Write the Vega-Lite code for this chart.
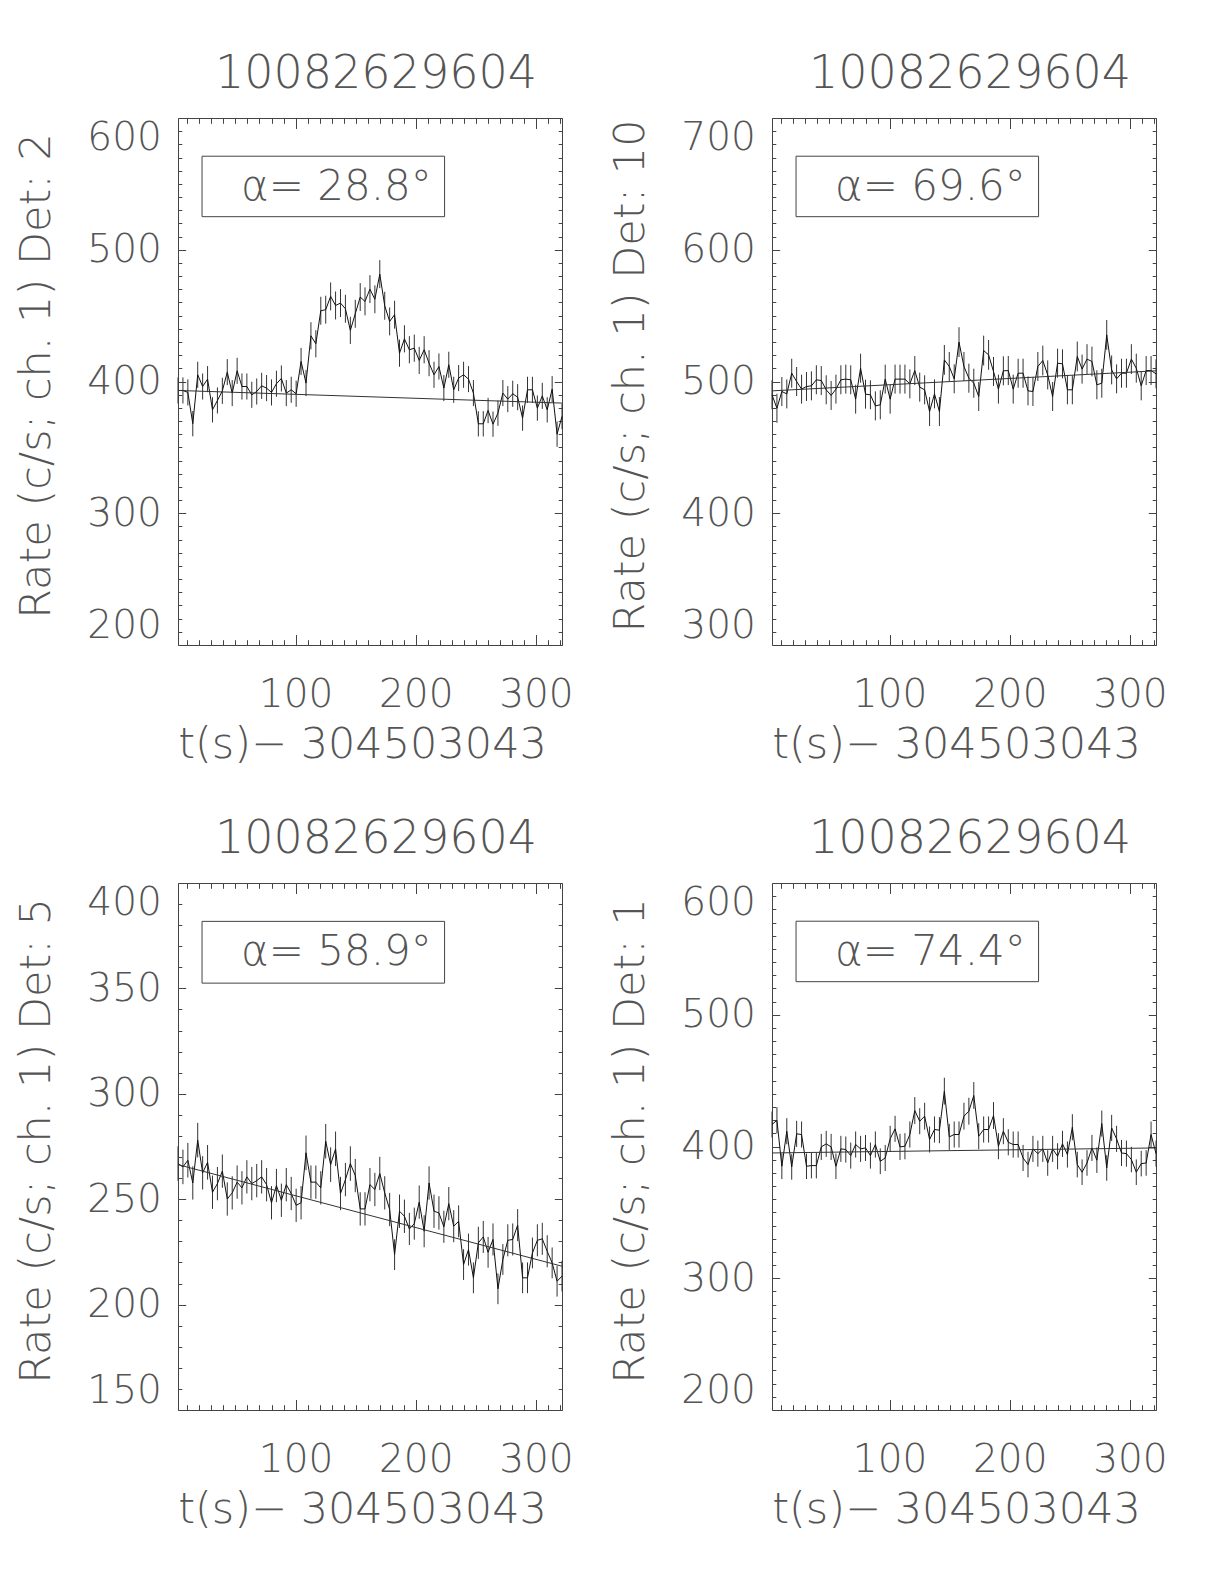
{
"$schema":"https://vega.github.io/schema/vega-lite/v6.json",
"padding":{"left":14,"top":50,"right":5,"bottom":5},
"columns":2,
"spacing":{"column":34,"row":47},
"datasets":{
"p1":[{"t":2.2,"r":393.2,"lo":383.3,"hi":403.1},{"t":6.3,"r":393.2,"lo":383.3,"hi":403.1},{"t":10.4,"r":391.7,"lo":381.8,"hi":401.6},{"t":14.5,"r":368.0,"lo":358.4,"hi":377.6},{"t":18.6,"r":405.1,"lo":395.2,"hi":415.0},{"t":22.7,"r":396.2,"lo":386.3,"hi":406.1},{"t":26.8,"r":401.8,"lo":391.9,"hi":411.7},{"t":30.9,"r":378.5,"lo":368.9,"hi":388.1},{"t":35.0,"r":385.6,"lo":375.7,"hi":395.5},{"t":39.1,"r":392.9,"lo":383.0,"hi":402.8},{"t":43.2,"r":407.1,"lo":397.2,"hi":417.0},{"t":47.3,"r":391.2,"lo":381.3,"hi":401.1},{"t":51.4,"r":408.1,"lo":398.2,"hi":418.0},{"t":55.4,"r":396.2,"lo":386.3,"hi":406.1},{"t":59.5,"r":396.2,"lo":386.3,"hi":406.1},{"t":63.6,"r":389.9,"lo":380.0,"hi":399.8},{"t":67.7,"r":392.4,"lo":382.5,"hi":402.3},{"t":71.8,"r":396.7,"lo":386.8,"hi":406.6},{"t":75.9,"r":395.0,"lo":385.1,"hi":404.9},{"t":80.0,"r":391.7,"lo":381.8,"hi":401.6},{"t":84.1,"r":398.3,"lo":388.4,"hi":408.2},{"t":88.2,"r":402.3,"lo":392.4,"hi":412.2},{"t":92.3,"r":391.2,"lo":381.3,"hi":401.1},{"t":96.4,"r":393.7,"lo":383.8,"hi":403.6},{"t":100.5,"r":390.7,"lo":380.8,"hi":400.6},{"t":104.6,"r":415.2,"lo":404.9,"hi":425.5},{"t":108.7,"r":398.8,"lo":388.9,"hi":408.7},{"t":112.8,"r":434.7,"lo":424.4,"hi":445.0},{"t":116.9,"r":428.6,"lo":418.3,"hi":438.9},{"t":121.0,"r":453.7,"lo":443.1,"hi":464.3},{"t":125.1,"r":454.5,"lo":443.9,"hi":465.1},{"t":129.2,"r":464.6,"lo":454.0,"hi":475.2},{"t":133.3,"r":457.7,"lo":447.1,"hi":468.3},{"t":137.4,"r":459.5,"lo":448.9,"hi":470.1},{"t":141.5,"r":455.2,"lo":444.6,"hi":465.8},{"t":145.6,"r":438.8,"lo":428.5,"hi":449.1},{"t":149.7,"r":451.4,"lo":440.8,"hi":462.0},{"t":153.8,"r":464.1,"lo":453.5,"hi":474.7},{"t":157.8,"r":460.8,"lo":450.2,"hi":471.4},{"t":161.9,"r":470.1,"lo":459.5,"hi":480.7},{"t":166.0,"r":462.4,"lo":451.8,"hi":473.0},{"t":170.1,"r":481.5,"lo":470.9,"hi":492.1},{"t":174.2,"r":457.5,"lo":446.9,"hi":468.1},{"t":178.3,"r":445.6,"lo":435.0,"hi":456.2},{"t":182.4,"r":450.7,"lo":440.1,"hi":461.3},{"t":186.5,"r":421.5,"lo":411.2,"hi":431.8},{"t":190.6,"r":432.4,"lo":422.1,"hi":442.7},{"t":194.7,"r":424.1,"lo":413.8,"hi":434.4},{"t":198.8,"r":425.3,"lo":415.0,"hi":435.6},{"t":202.9,"r":416.0,"lo":405.7,"hi":426.3},{"t":207.0,"r":424.1,"lo":413.8,"hi":434.4},{"t":211.1,"r":413.9,"lo":404.0,"hi":423.8},{"t":215.2,"r":405.1,"lo":395.2,"hi":415.0},{"t":219.3,"r":411.4,"lo":401.5,"hi":421.3},{"t":223.4,"r":395.0,"lo":385.1,"hi":404.9},{"t":227.5,"r":412.7,"lo":402.8,"hi":422.6},{"t":231.6,"r":393.7,"lo":383.8,"hi":403.6},{"t":235.7,"r":402.6,"lo":392.7,"hi":412.5},{"t":239.8,"r":405.1,"lo":395.2,"hi":415.0},{"t":243.9,"r":401.8,"lo":391.9,"hi":411.7},{"t":248.0,"r":391.2,"lo":381.3,"hi":401.1},{"t":252.1,"r":367.9,"lo":358.3,"hi":377.5},{"t":256.2,"r":367.9,"lo":358.3,"hi":377.5},{"t":260.2,"r":378.0,"lo":368.4,"hi":387.6},{"t":264.3,"r":367.6,"lo":358.0,"hi":377.2},{"t":268.4,"r":376.0,"lo":366.4,"hi":385.6},{"t":272.5,"r":391.2,"lo":381.3,"hi":401.1},{"t":276.6,"r":386.6,"lo":376.7,"hi":396.5},{"t":280.7,"r":390.7,"lo":380.8,"hi":400.6},{"t":284.8,"r":388.1,"lo":378.2,"hi":398.0},{"t":288.9,"r":372.2,"lo":362.6,"hi":381.8},{"t":293.0,"r":393.7,"lo":383.8,"hi":403.6},{"t":297.1,"r":393.7,"lo":383.8,"hi":403.6},{"t":301.2,"r":379.8,"lo":370.2,"hi":389.4},{"t":305.3,"r":389.1,"lo":379.2,"hi":399.0},{"t":309.4,"r":378.5,"lo":368.9,"hi":388.1},{"t":313.5,"r":394.2,"lo":384.3,"hi":404.1},{"t":317.6,"r":360.0,"lo":350.4,"hi":369.6},{"t":321.7,"r":373.5,"lo":363.9,"hi":383.1}],
"p2":[{"t":2.2,"r":489.9,"lo":478.9,"hi":500.9},{"t":6.3,"r":479.7,"lo":468.7,"hi":490.7},{"t":10.4,"r":492.4,"lo":481.4,"hi":503.4},{"t":14.5,"r":490.6,"lo":479.6,"hi":501.6},{"t":18.6,"r":506.3,"lo":495.3,"hi":517.3},{"t":22.7,"r":500.0,"lo":489.0,"hi":511.0},{"t":26.8,"r":494.2,"lo":483.2,"hi":505.2},{"t":30.9,"r":496.2,"lo":485.2,"hi":507.2},{"t":35.0,"r":496.7,"lo":485.7,"hi":507.7},{"t":39.1,"r":501.3,"lo":490.3,"hi":512.3},{"t":43.2,"r":500.7,"lo":489.7,"hi":511.7},{"t":47.3,"r":493.7,"lo":482.7,"hi":504.7},{"t":51.4,"r":489.4,"lo":478.4,"hi":500.4},{"t":55.4,"r":494.2,"lo":483.2,"hi":505.2},{"t":59.5,"r":501.3,"lo":490.3,"hi":512.3},{"t":63.6,"r":501.8,"lo":490.8,"hi":512.8},{"t":67.7,"r":501.3,"lo":490.3,"hi":512.3},{"t":71.8,"r":486.6,"lo":475.6,"hi":497.6},{"t":75.9,"r":510.1,"lo":499.1,"hi":521.1},{"t":80.0,"r":490.4,"lo":479.4,"hi":501.4},{"t":84.1,"r":489.9,"lo":478.9,"hi":500.9},{"t":88.2,"r":481.5,"lo":470.5,"hi":492.5},{"t":92.3,"r":482.3,"lo":471.3,"hi":493.3},{"t":96.4,"r":501.8,"lo":490.8,"hi":512.8},{"t":100.5,"r":486.6,"lo":475.6,"hi":497.6},{"t":104.6,"r":501.8,"lo":490.8,"hi":512.8},{"t":108.7,"r":501.8,"lo":490.8,"hi":512.8},{"t":112.8,"r":501.8,"lo":490.8,"hi":512.8},{"t":116.9,"r":498.2,"lo":487.2,"hi":509.2},{"t":121.0,"r":508.3,"lo":497.3,"hi":519.3},{"t":125.1,"r":495.7,"lo":484.7,"hi":506.7},{"t":129.2,"r":493.7,"lo":482.7,"hi":504.7},{"t":133.3,"r":477.2,"lo":466.2,"hi":488.2},{"t":137.4,"r":490.6,"lo":479.6,"hi":501.6},{"t":141.5,"r":477.2,"lo":466.2,"hi":488.2},{"t":145.6,"r":516.4,"lo":505.1,"hi":527.7},{"t":149.7,"r":511.4,"lo":500.4,"hi":522.4},{"t":153.8,"r":502.0,"lo":491.0,"hi":513.0},{"t":157.8,"r":529.9,"lo":518.6,"hi":541.2},{"t":161.9,"r":511.4,"lo":500.4,"hi":522.4},{"t":166.0,"r":502.5,"lo":491.5,"hi":513.5},{"t":170.1,"r":498.7,"lo":487.7,"hi":509.7},{"t":174.2,"r":488.6,"lo":477.6,"hi":499.6},{"t":178.3,"r":523.5,"lo":512.2,"hi":534.8},{"t":182.4,"r":520.2,"lo":508.9,"hi":531.5},{"t":186.5,"r":507.6,"lo":496.6,"hi":518.6},{"t":190.6,"r":494.2,"lo":483.2,"hi":505.2},{"t":194.7,"r":508.1,"lo":497.1,"hi":519.1},{"t":198.8,"r":508.3,"lo":497.3,"hi":519.3},{"t":202.9,"r":494.2,"lo":483.2,"hi":505.2},{"t":207.0,"r":506.3,"lo":495.3,"hi":517.3},{"t":211.1,"r":506.3,"lo":495.3,"hi":517.3},{"t":215.2,"r":492.9,"lo":481.9,"hi":503.9},{"t":219.3,"r":492.4,"lo":481.4,"hi":503.4},{"t":223.4,"r":511.4,"lo":500.4,"hi":522.4},{"t":227.5,"r":515.9,"lo":504.6,"hi":527.2},{"t":231.6,"r":505.0,"lo":494.0,"hi":516.0},{"t":235.7,"r":488.6,"lo":477.6,"hi":499.6},{"t":239.8,"r":513.9,"lo":502.9,"hi":524.9},{"t":243.9,"r":513.4,"lo":502.4,"hi":524.4},{"t":248.0,"r":493.7,"lo":482.7,"hi":504.7},{"t":252.1,"r":493.7,"lo":482.7,"hi":504.7},{"t":256.2,"r":519.0,"lo":507.7,"hi":530.3},{"t":260.2,"r":509.4,"lo":498.4,"hi":520.4},{"t":264.3,"r":517.0,"lo":505.7,"hi":528.3},{"t":268.4,"r":515.2,"lo":503.9,"hi":526.5},{"t":272.5,"r":497.5,"lo":486.5,"hi":508.5},{"t":276.6,"r":498.7,"lo":487.7,"hi":509.7},{"t":280.7,"r":535.4,"lo":524.1,"hi":546.7},{"t":284.8,"r":508.8,"lo":497.8,"hi":519.8},{"t":288.9,"r":502.0,"lo":491.0,"hi":513.0},{"t":293.0,"r":506.3,"lo":495.3,"hi":517.3},{"t":297.1,"r":506.3,"lo":495.3,"hi":517.3},{"t":301.2,"r":517.0,"lo":505.7,"hi":528.3},{"t":305.3,"r":510.1,"lo":499.1,"hi":521.1},{"t":309.4,"r":496.7,"lo":485.7,"hi":507.7},{"t":313.5,"r":508.3,"lo":497.3,"hi":519.3},{"t":317.6,"r":508.3,"lo":497.3,"hi":519.3},{"t":321.7,"r":505.8,"lo":494.8,"hi":516.8}],
"p3":[{"t":2.2,"r":266.9,"lo":258.7,"hi":275.1},{"t":6.3,"r":265.3,"lo":257.1,"hi":273.5},{"t":10.4,"r":268.5,"lo":260.3,"hi":276.7},{"t":14.5,"r":257.7,"lo":249.8,"hi":265.6},{"t":18.6,"r":278.0,"lo":269.8,"hi":286.2},{"t":22.7,"r":262.5,"lo":254.6,"hi":270.4},{"t":26.8,"r":267.5,"lo":259.3,"hi":275.7},{"t":30.9,"r":253.3,"lo":245.4,"hi":261.2},{"t":35.0,"r":257.4,"lo":249.5,"hi":265.3},{"t":39.1,"r":263.3,"lo":255.4,"hi":271.2},{"t":43.2,"r":250.1,"lo":242.2,"hi":258.0},{"t":47.3,"r":253.0,"lo":245.1,"hi":260.9},{"t":51.4,"r":258.1,"lo":250.2,"hi":266.0},{"t":55.4,"r":255.4,"lo":247.5,"hi":263.3},{"t":59.5,"r":260.6,"lo":252.7,"hi":268.5},{"t":63.6,"r":257.4,"lo":249.5,"hi":265.3},{"t":67.7,"r":258.8,"lo":250.9,"hi":266.7},{"t":71.8,"r":260.6,"lo":252.7,"hi":268.5},{"t":75.9,"r":256.9,"lo":249.0,"hi":264.8},{"t":80.0,"r":248.3,"lo":240.4,"hi":256.2},{"t":84.1,"r":256.5,"lo":248.6,"hi":264.4},{"t":88.2,"r":249.5,"lo":241.6,"hi":257.4},{"t":92.3,"r":256.9,"lo":249.0,"hi":264.8},{"t":96.4,"r":252.7,"lo":244.8,"hi":260.6},{"t":100.5,"r":247.1,"lo":239.2,"hi":255.0},{"t":104.6,"r":248.3,"lo":240.4,"hi":256.2},{"t":108.7,"r":272.0,"lo":263.8,"hi":280.2},{"t":112.8,"r":258.1,"lo":250.2,"hi":266.0},{"t":116.9,"r":258.1,"lo":250.2,"hi":266.0},{"t":121.0,"r":255.4,"lo":247.5,"hi":263.3},{"t":125.1,"r":277.5,"lo":269.3,"hi":285.7},{"t":129.2,"r":266.4,"lo":258.2,"hi":274.6},{"t":133.3,"r":273.9,"lo":265.7,"hi":282.1},{"t":137.4,"r":252.7,"lo":244.8,"hi":260.6},{"t":141.5,"r":259.3,"lo":251.4,"hi":267.2},{"t":145.6,"r":266.9,"lo":258.7,"hi":275.1},{"t":149.7,"r":261.2,"lo":253.3,"hi":269.1},{"t":153.8,"r":245.4,"lo":237.5,"hi":253.3},{"t":157.8,"r":245.4,"lo":237.5,"hi":253.3},{"t":161.9,"r":256.9,"lo":249.0,"hi":264.8},{"t":166.0,"r":254.6,"lo":246.7,"hi":262.5},{"t":170.1,"r":262.2,"lo":254.3,"hi":270.1},{"t":174.2,"r":253.0,"lo":245.1,"hi":260.9},{"t":178.3,"r":245.1,"lo":237.2,"hi":253.0},{"t":182.4,"r":223.7,"lo":216.4,"hi":231.0},{"t":186.5,"r":244.3,"lo":236.4,"hi":252.2},{"t":190.6,"r":241.9,"lo":234.0,"hi":249.8},{"t":194.7,"r":235.9,"lo":228.3,"hi":243.5},{"t":198.8,"r":238.4,"lo":230.8,"hi":246.0},{"t":202.9,"r":248.6,"lo":240.7,"hi":256.5},{"t":207.0,"r":234.8,"lo":227.2,"hi":242.4},{"t":211.1,"r":257.7,"lo":249.8,"hi":265.6},{"t":215.2,"r":244.3,"lo":236.4,"hi":252.2},{"t":219.3,"r":243.5,"lo":235.6,"hi":251.4},{"t":223.4,"r":236.9,"lo":229.3,"hi":244.5},{"t":227.5,"r":247.9,"lo":240.0,"hi":255.8},{"t":231.6,"r":237.2,"lo":229.6,"hi":244.8},{"t":235.7,"r":239.5,"lo":231.9,"hi":247.1},{"t":239.8,"r":219.0,"lo":211.7,"hi":226.3},{"t":243.9,"r":226.1,"lo":218.5,"hi":233.7},{"t":248.0,"r":212.7,"lo":205.4,"hi":220.0},{"t":252.1,"r":229.3,"lo":221.7,"hi":236.9},{"t":256.2,"r":232.1,"lo":224.5,"hi":239.7},{"t":260.2,"r":224.8,"lo":217.5,"hi":232.1},{"t":264.3,"r":230.9,"lo":223.3,"hi":238.5},{"t":268.4,"r":207.5,"lo":200.2,"hi":214.8},{"t":272.5,"r":221.4,"lo":214.1,"hi":228.7},{"t":276.6,"r":230.5,"lo":222.9,"hi":238.1},{"t":280.7,"r":230.9,"lo":223.3,"hi":238.5},{"t":284.8,"r":237.7,"lo":230.1,"hi":245.3},{"t":288.9,"r":212.7,"lo":205.4,"hi":220.0},{"t":293.0,"r":212.7,"lo":205.4,"hi":220.0},{"t":297.1,"r":224.5,"lo":217.2,"hi":231.8},{"t":301.2,"r":230.5,"lo":222.9,"hi":238.1},{"t":305.3,"r":231.2,"lo":223.6,"hi":238.8},{"t":309.4,"r":225.3,"lo":217.7,"hi":232.9},{"t":313.5,"r":219.8,"lo":212.5,"hi":227.1},{"t":317.6,"r":211.1,"lo":203.8,"hi":218.4},{"t":321.7,"r":213.5,"lo":206.2,"hi":220.8}],
"p4":[{"t":2.2,"r":416.7,"lo":406.8,"hi":426.6},{"t":6.3,"r":419.9,"lo":410.0,"hi":429.8},{"t":10.4,"r":385.0,"lo":375.3,"hi":394.7},{"t":14.5,"r":411.6,"lo":401.7,"hi":421.5},{"t":18.6,"r":384.5,"lo":374.8,"hi":394.2},{"t":22.7,"r":409.6,"lo":399.7,"hi":419.5},{"t":26.8,"r":409.1,"lo":399.2,"hi":419.0},{"t":30.9,"r":385.0,"lo":375.3,"hi":394.7},{"t":35.0,"r":385.5,"lo":375.8,"hi":395.2},{"t":39.1,"r":385.5,"lo":375.8,"hi":395.2},{"t":43.2,"r":399.7,"lo":389.8,"hi":409.6},{"t":47.3,"r":402.0,"lo":392.1,"hi":411.9},{"t":51.4,"r":399.7,"lo":389.8,"hi":409.6},{"t":55.4,"r":385.0,"lo":375.3,"hi":394.7},{"t":59.5,"r":398.2,"lo":388.3,"hi":408.1},{"t":63.6,"r":397.7,"lo":387.8,"hi":407.6},{"t":67.7,"r":393.1,"lo":383.2,"hi":403.0},{"t":71.8,"r":401.5,"lo":391.6,"hi":411.4},{"t":75.9,"r":398.2,"lo":388.3,"hi":408.1},{"t":80.0,"r":398.9,"lo":389.0,"hi":408.8},{"t":84.1,"r":393.1,"lo":383.2,"hi":403.0},{"t":88.2,"r":401.5,"lo":391.6,"hi":411.4},{"t":92.3,"r":388.8,"lo":379.1,"hi":398.5},{"t":96.4,"r":391.3,"lo":381.4,"hi":401.2},{"t":100.5,"r":405.8,"lo":395.9,"hi":415.7},{"t":104.6,"r":413.4,"lo":403.5,"hi":423.3},{"t":108.7,"r":399.7,"lo":389.8,"hi":409.6},{"t":112.8,"r":400.2,"lo":390.3,"hi":410.1},{"t":116.9,"r":409.1,"lo":399.2,"hi":419.0},{"t":121.0,"r":427.3,"lo":417.1,"hi":437.5},{"t":125.1,"r":419.2,"lo":409.3,"hi":429.1},{"t":129.2,"r":423.0,"lo":412.8,"hi":433.2},{"t":133.3,"r":405.3,"lo":395.4,"hi":415.2},{"t":137.4,"r":412.9,"lo":403.0,"hi":422.8},{"t":141.5,"r":412.4,"lo":402.5,"hi":422.3},{"t":145.6,"r":442.0,"lo":431.8,"hi":452.2},{"t":149.7,"r":407.3,"lo":397.4,"hi":417.2},{"t":153.8,"r":409.1,"lo":399.2,"hi":419.0},{"t":157.8,"r":409.1,"lo":399.2,"hi":419.0},{"t":161.9,"r":423.0,"lo":412.8,"hi":433.2},{"t":166.0,"r":426.8,"lo":416.6,"hi":437.0},{"t":170.1,"r":438.7,"lo":428.5,"hi":448.9},{"t":174.2,"r":407.8,"lo":397.9,"hi":417.7},{"t":178.3,"r":412.9,"lo":403.0,"hi":422.8},{"t":182.4,"r":412.9,"lo":403.0,"hi":422.8},{"t":186.5,"r":423.5,"lo":413.3,"hi":433.7},{"t":190.6,"r":400.2,"lo":390.3,"hi":410.1},{"t":194.7,"r":411.6,"lo":401.7,"hi":421.5},{"t":198.8,"r":403.2,"lo":393.3,"hi":413.1},{"t":202.9,"r":401.5,"lo":391.6,"hi":411.4},{"t":207.0,"r":401.5,"lo":391.6,"hi":411.4},{"t":211.1,"r":391.3,"lo":381.4,"hi":401.2},{"t":215.2,"r":386.3,"lo":376.6,"hi":396.0},{"t":219.3,"r":398.2,"lo":388.3,"hi":408.1},{"t":223.4,"r":394.6,"lo":384.7,"hi":404.5},{"t":227.5,"r":398.2,"lo":388.3,"hi":408.1},{"t":231.6,"r":387.5,"lo":377.8,"hi":397.2},{"t":235.7,"r":398.2,"lo":388.3,"hi":408.1},{"t":239.8,"r":392.6,"lo":382.7,"hi":402.5},{"t":243.9,"r":402.0,"lo":392.1,"hi":411.9},{"t":248.0,"r":393.9,"lo":384.0,"hi":403.8},{"t":252.1,"r":414.6,"lo":404.7,"hi":424.5},{"t":256.2,"r":386.3,"lo":376.6,"hi":396.0},{"t":260.2,"r":380.5,"lo":370.8,"hi":390.2},{"t":264.3,"r":387.5,"lo":377.8,"hi":397.2},{"t":268.4,"r":398.9,"lo":389.0,"hi":408.8},{"t":272.5,"r":389.6,"lo":379.9,"hi":399.3},{"t":276.6,"r":417.4,"lo":407.5,"hi":427.3},{"t":280.7,"r":383.7,"lo":374.0,"hi":393.4},{"t":284.8,"r":414.1,"lo":404.2,"hi":424.0},{"t":288.9,"r":405.8,"lo":395.9,"hi":415.7},{"t":293.0,"r":395.1,"lo":385.2,"hi":405.0},{"t":297.1,"r":394.6,"lo":384.7,"hi":404.5},{"t":301.2,"r":390.1,"lo":380.4,"hi":399.8},{"t":305.3,"r":380.5,"lo":370.8,"hi":390.2},{"t":309.4,"r":387.0,"lo":377.3,"hi":396.7},{"t":313.5,"r":387.5,"lo":377.8,"hi":397.2},{"t":317.6,"r":409.1,"lo":399.2,"hi":419.0},{"t":321.7,"r":394.6,"lo":384.7,"hi":404.5}],
"f1":[{"t":2.2,"f":393.2},{"t":321.7,"f":383.6}],
"f2":[{"t":2.2,"f":492.9},{"t":321.7,"f":508.1}],
"f3":[{"t":2.2,"f":266.4},{"t":321.7,"f":218.2}],
"f4":[{"t":2.2,"f":395.1},{"t":321.7,"f":398.9}],
"b1":[{"x1":22.2,"x2":224,"y1":525.1,"y2":571,"tx":134,"ty":538,"label":"α= 28.8°"}],
"b2":[{"x1":22.2,"x2":224,"y1":625.1,"y2":671,"tx":134,"ty":638,"label":"α= 69.6°"}],
"b3":[{"x1":22.2,"x2":224,"y1":352.5,"y2":381.8,"tx":134,"ty":361.2,"label":"α= 58.9°"}],
"b4":[{"x1":22.2,"x2":224,"y1":525.1,"y2":571,"tx":134,"ty":538,"label":"α= 74.4°"}]
},
"concat":[
{"width":384,"height":527,"title":{"text":"10082629604"},"resolve":{"axis":{"x":"independent","y":"independent"}},
"layer":[
{"data":{"name":"p1"},"mark":{"type":"rule","color":"#333","strokeWidth":1},
"encoding":{"x":{"field":"t","type":"quantitative","scale":{"domain":[2.2,321.7],"nice":false,"zero":false},"axis":{"orient":"bottom","values":[10,20,30,40,50,60,70,80,90,100,110,120,130,140,150,160,170,180,190,200,210,220,230,240,250,260,270,280,290,300,310,320],"labelExpr":"datum.value % 100 === 0 ? datum.label : ''","labelFontSize":{"condition":{"test":"datum.value % 100 === 0","value":39},"value":0},"tickSize":{"condition":{"test":"datum.value % 100 === 0","value":-10.5},"value":-5.3},"labelPadding":71.5,"labelBaseline":"alphabetic","labelFlush":false,"title":"t(s)− 304503043","titleFontSize":43,"titleX":184,"titleY":112.7,"titleBaseline":"alphabetic","titleAlign":"center"}},
"y":{"field":"lo","type":"quantitative","scale":{"domain":[200,600],"nice":false,"zero":false},"axis":{"orient":"left","values":[200,210,220,230,240,250,260,270,280,290,300,310,320,330,340,350,360,370,380,390,400,410,420,430,440,450,460,470,480,490,500,510,520,530,540,550,560,570,580,590,600],"labelExpr":"datum.value % 100 === 0 ? datum.label : ''","labelFontSize":{"condition":{"test":"datum.value % 100 === 0","value":39},"value":0},"tickSize":{"condition":{"test":"datum.value % 100 === 0","value":-7.7},"value":-3.8},"labelPadding":24.4,"labelFlush":true,"title":"Rate (c/s; ch. 1) Det: 2","titleX":-129,"titleY":257.5,"titleAngle":-90,"titleBaseline":"alphabetic","titleAlign":"center"}},
"y2":{"field":"hi"}}},
{"data":{"name":"p1"},"mark":{"type":"line","color":"#111","strokeWidth":1},
"encoding":{"x":{"field":"t","type":"quantitative","scale":{"domain":[2.2,321.7],"nice":false,"zero":false},"axis":null},"y":{"field":"r","type":"quantitative","scale":{"domain":[200,600],"nice":false,"zero":false},"axis":null}}},
{"data":{"name":"f1"},"mark":{"type":"line","color":"#333","strokeWidth":1},
"encoding":{"x":{"field":"t","type":"quantitative","scale":{"domain":[2.2,321.7],"nice":false,"zero":false},"axis":{"orient":"top","values":[10,20,30,40,50,60,70,80,90,100,110,120,130,140,150,160,170,180,190,200,210,220,230,240,250,260,270,280,290,300,310,320],"labels":false,"tickSize":{"condition":{"test":"datum.value % 100 === 0","value":-10.5},"value":-5.3},"title":null}},
"y":{"field":"f","type":"quantitative","scale":{"domain":[200,600],"nice":false,"zero":false},"axis":{"orient":"right","values":[200,210,220,230,240,250,260,270,280,290,300,310,320,330,340,350,360,370,380,390,400,410,420,430,440,450,460,470,480,490,500,510,520,530,540,550,560,570,580,590,600],"labels":false,"tickSize":{"condition":{"test":"datum.value % 100 === 0","value":-7.7},"value":-3.8},"title":null}}}},
{"data":{"name":"b1"},"mark":{"type":"rect","fillOpacity":0,"stroke":"#444","strokeWidth":1},
"encoding":{"x":{"field":"x1","type":"quantitative","axis":null},"x2":{"field":"x2"},"y":{"field":"y1","type":"quantitative","axis":null},"y2":{"field":"y2"}}},
{"data":{"name":"b1"},"mark":{"type":"text","align":"center","baseline":"alphabetic","fontSize":42,"font":"DejaVu Sans","fontWeight":200,"color":"#555"},
"encoding":{"x":{"field":"tx","type":"quantitative","axis":null},"y":{"field":"ty","type":"quantitative","axis":null},"text":{"field":"label"}}}
]},
{"width":384,"height":527,"title":{"text":"10082629604"},"resolve":{"axis":{"x":"independent","y":"independent"}},
"layer":[
{"data":{"name":"p2"},"mark":{"type":"rule","color":"#333","strokeWidth":1},
"encoding":{"x":{"field":"t","type":"quantitative","scale":{"domain":[2.2,321.7],"nice":false,"zero":false},"axis":{"orient":"bottom","values":[10,20,30,40,50,60,70,80,90,100,110,120,130,140,150,160,170,180,190,200,210,220,230,240,250,260,270,280,290,300,310,320],"labelExpr":"datum.value % 100 === 0 ? datum.label : ''","labelFontSize":{"condition":{"test":"datum.value % 100 === 0","value":39},"value":0},"tickSize":{"condition":{"test":"datum.value % 100 === 0","value":-10.5},"value":-5.3},"labelPadding":71.5,"labelBaseline":"alphabetic","labelFlush":false,"title":"t(s)− 304503043","titleFontSize":43,"titleX":184,"titleY":112.7,"titleBaseline":"alphabetic","titleAlign":"center"}},
"y":{"field":"lo","type":"quantitative","scale":{"domain":[300,700],"nice":false,"zero":false},"axis":{"orient":"left","values":[300,310,320,330,340,350,360,370,380,390,400,410,420,430,440,450,460,470,480,490,500,510,520,530,540,550,560,570,580,590,600,610,620,630,640,650,660,670,680,690,700],"labelExpr":"datum.value % 100 === 0 ? datum.label : ''","labelFontSize":{"condition":{"test":"datum.value % 100 === 0","value":39},"value":0},"tickSize":{"condition":{"test":"datum.value % 100 === 0","value":-7.7},"value":-3.8},"labelPadding":24.4,"labelFlush":true,"title":"Rate (c/s; ch. 1) Det: 10","titleX":-129,"titleY":257.5,"titleAngle":-90,"titleBaseline":"alphabetic","titleAlign":"center"}},
"y2":{"field":"hi"}}},
{"data":{"name":"p2"},"mark":{"type":"line","color":"#111","strokeWidth":1},
"encoding":{"x":{"field":"t","type":"quantitative","scale":{"domain":[2.2,321.7],"nice":false,"zero":false},"axis":null},"y":{"field":"r","type":"quantitative","scale":{"domain":[300,700],"nice":false,"zero":false},"axis":null}}},
{"data":{"name":"f2"},"mark":{"type":"line","color":"#333","strokeWidth":1},
"encoding":{"x":{"field":"t","type":"quantitative","scale":{"domain":[2.2,321.7],"nice":false,"zero":false},"axis":{"orient":"top","values":[10,20,30,40,50,60,70,80,90,100,110,120,130,140,150,160,170,180,190,200,210,220,230,240,250,260,270,280,290,300,310,320],"labels":false,"tickSize":{"condition":{"test":"datum.value % 100 === 0","value":-10.5},"value":-5.3},"title":null}},
"y":{"field":"f","type":"quantitative","scale":{"domain":[300,700],"nice":false,"zero":false},"axis":{"orient":"right","values":[300,310,320,330,340,350,360,370,380,390,400,410,420,430,440,450,460,470,480,490,500,510,520,530,540,550,560,570,580,590,600,610,620,630,640,650,660,670,680,690,700],"labels":false,"tickSize":{"condition":{"test":"datum.value % 100 === 0","value":-7.7},"value":-3.8},"title":null}}}},
{"data":{"name":"b2"},"mark":{"type":"rect","fillOpacity":0,"stroke":"#444","strokeWidth":1},
"encoding":{"x":{"field":"x1","type":"quantitative","axis":null},"x2":{"field":"x2"},"y":{"field":"y1","type":"quantitative","axis":null},"y2":{"field":"y2"}}},
{"data":{"name":"b2"},"mark":{"type":"text","align":"center","baseline":"alphabetic","fontSize":42,"font":"DejaVu Sans","fontWeight":200,"color":"#555"},
"encoding":{"x":{"field":"tx","type":"quantitative","axis":null},"y":{"field":"ty","type":"quantitative","axis":null},"text":{"field":"label"}}}
]},
{"width":384,"height":527,"title":{"text":"10082629604"},"resolve":{"axis":{"x":"independent","y":"independent"}},
"layer":[
{"data":{"name":"p3"},"mark":{"type":"rule","color":"#333","strokeWidth":1},
"encoding":{"x":{"field":"t","type":"quantitative","scale":{"domain":[2.2,321.7],"nice":false,"zero":false},"axis":{"orient":"bottom","values":[10,20,30,40,50,60,70,80,90,100,110,120,130,140,150,160,170,180,190,200,210,220,230,240,250,260,270,280,290,300,310,320],"labelExpr":"datum.value % 100 === 0 ? datum.label : ''","labelFontSize":{"condition":{"test":"datum.value % 100 === 0","value":39},"value":0},"tickSize":{"condition":{"test":"datum.value % 100 === 0","value":-10.5},"value":-5.3},"labelPadding":71.5,"labelBaseline":"alphabetic","labelFlush":false,"title":"t(s)− 304503043","titleFontSize":43,"titleX":184,"titleY":112.7,"titleBaseline":"alphabetic","titleAlign":"center"}},
"y":{"field":"lo","type":"quantitative","scale":{"domain":[150,400],"nice":false,"zero":false},"axis":{"orient":"left","values":[150,160,170,180,190,200,210,220,230,240,250,260,270,280,290,300,310,320,330,340,350,360,370,380,390,400],"labelExpr":"datum.value % 50 === 0 ? datum.label : ''","labelFontSize":{"condition":{"test":"datum.value % 50 === 0","value":39},"value":0},"tickSize":{"condition":{"test":"datum.value % 50 === 0","value":-7.7},"value":-3.8},"labelPadding":24.4,"labelFlush":true,"title":"Rate (c/s; ch. 1) Det: 5","titleX":-129,"titleY":257.5,"titleAngle":-90,"titleBaseline":"alphabetic","titleAlign":"center"}},
"y2":{"field":"hi"}}},
{"data":{"name":"p3"},"mark":{"type":"line","color":"#111","strokeWidth":1},
"encoding":{"x":{"field":"t","type":"quantitative","scale":{"domain":[2.2,321.7],"nice":false,"zero":false},"axis":null},"y":{"field":"r","type":"quantitative","scale":{"domain":[150,400],"nice":false,"zero":false},"axis":null}}},
{"data":{"name":"f3"},"mark":{"type":"line","color":"#333","strokeWidth":1},
"encoding":{"x":{"field":"t","type":"quantitative","scale":{"domain":[2.2,321.7],"nice":false,"zero":false},"axis":{"orient":"top","values":[10,20,30,40,50,60,70,80,90,100,110,120,130,140,150,160,170,180,190,200,210,220,230,240,250,260,270,280,290,300,310,320],"labels":false,"tickSize":{"condition":{"test":"datum.value % 100 === 0","value":-10.5},"value":-5.3},"title":null}},
"y":{"field":"f","type":"quantitative","scale":{"domain":[150,400],"nice":false,"zero":false},"axis":{"orient":"right","values":[150,160,170,180,190,200,210,220,230,240,250,260,270,280,290,300,310,320,330,340,350,360,370,380,390,400],"labels":false,"tickSize":{"condition":{"test":"datum.value % 50 === 0","value":-7.7},"value":-3.8},"title":null}}}},
{"data":{"name":"b3"},"mark":{"type":"rect","fillOpacity":0,"stroke":"#444","strokeWidth":1},
"encoding":{"x":{"field":"x1","type":"quantitative","axis":null},"x2":{"field":"x2"},"y":{"field":"y1","type":"quantitative","axis":null},"y2":{"field":"y2"}}},
{"data":{"name":"b3"},"mark":{"type":"text","align":"center","baseline":"alphabetic","fontSize":42,"font":"DejaVu Sans","fontWeight":200,"color":"#555"},
"encoding":{"x":{"field":"tx","type":"quantitative","axis":null},"y":{"field":"ty","type":"quantitative","axis":null},"text":{"field":"label"}}}
]},
{"width":384,"height":527,"title":{"text":"10082629604"},"resolve":{"axis":{"x":"independent","y":"independent"}},
"layer":[
{"data":{"name":"p4"},"mark":{"type":"rule","color":"#333","strokeWidth":1},
"encoding":{"x":{"field":"t","type":"quantitative","scale":{"domain":[2.2,321.7],"nice":false,"zero":false},"axis":{"orient":"bottom","values":[10,20,30,40,50,60,70,80,90,100,110,120,130,140,150,160,170,180,190,200,210,220,230,240,250,260,270,280,290,300,310,320],"labelExpr":"datum.value % 100 === 0 ? datum.label : ''","labelFontSize":{"condition":{"test":"datum.value % 100 === 0","value":39},"value":0},"tickSize":{"condition":{"test":"datum.value % 100 === 0","value":-10.5},"value":-5.3},"labelPadding":71.5,"labelBaseline":"alphabetic","labelFlush":false,"title":"t(s)− 304503043","titleFontSize":43,"titleX":184,"titleY":112.7,"titleBaseline":"alphabetic","titleAlign":"center"}},
"y":{"field":"lo","type":"quantitative","scale":{"domain":[200,600],"nice":false,"zero":false},"axis":{"orient":"left","values":[200,210,220,230,240,250,260,270,280,290,300,310,320,330,340,350,360,370,380,390,400,410,420,430,440,450,460,470,480,490,500,510,520,530,540,550,560,570,580,590,600],"labelExpr":"datum.value % 100 === 0 ? datum.label : ''","labelFontSize":{"condition":{"test":"datum.value % 100 === 0","value":39},"value":0},"tickSize":{"condition":{"test":"datum.value % 100 === 0","value":-7.7},"value":-3.8},"labelPadding":24.4,"labelFlush":true,"title":"Rate (c/s; ch. 1) Det: 1","titleX":-129,"titleY":257.5,"titleAngle":-90,"titleBaseline":"alphabetic","titleAlign":"center"}},
"y2":{"field":"hi"}}},
{"data":{"name":"p4"},"mark":{"type":"line","color":"#111","strokeWidth":1},
"encoding":{"x":{"field":"t","type":"quantitative","scale":{"domain":[2.2,321.7],"nice":false,"zero":false},"axis":null},"y":{"field":"r","type":"quantitative","scale":{"domain":[200,600],"nice":false,"zero":false},"axis":null}}},
{"data":{"name":"f4"},"mark":{"type":"line","color":"#333","strokeWidth":1},
"encoding":{"x":{"field":"t","type":"quantitative","scale":{"domain":[2.2,321.7],"nice":false,"zero":false},"axis":{"orient":"top","values":[10,20,30,40,50,60,70,80,90,100,110,120,130,140,150,160,170,180,190,200,210,220,230,240,250,260,270,280,290,300,310,320],"labels":false,"tickSize":{"condition":{"test":"datum.value % 100 === 0","value":-10.5},"value":-5.3},"title":null}},
"y":{"field":"f","type":"quantitative","scale":{"domain":[200,600],"nice":false,"zero":false},"axis":{"orient":"right","values":[200,210,220,230,240,250,260,270,280,290,300,310,320,330,340,350,360,370,380,390,400,410,420,430,440,450,460,470,480,490,500,510,520,530,540,550,560,570,580,590,600],"labels":false,"tickSize":{"condition":{"test":"datum.value % 100 === 0","value":-7.7},"value":-3.8},"title":null}}}},
{"data":{"name":"b4"},"mark":{"type":"rect","fillOpacity":0,"stroke":"#444","strokeWidth":1},
"encoding":{"x":{"field":"x1","type":"quantitative","axis":null},"x2":{"field":"x2"},"y":{"field":"y1","type":"quantitative","axis":null},"y2":{"field":"y2"}}},
{"data":{"name":"b4"},"mark":{"type":"text","align":"center","baseline":"alphabetic","fontSize":42,"font":"DejaVu Sans","fontWeight":200,"color":"#555"},
"encoding":{"x":{"field":"tx","type":"quantitative","axis":null},"y":{"field":"ty","type":"quantitative","axis":null},"text":{"field":"label"}}}
]}
],
"config":{
"axis":{"grid":false,"domain":false,"labelOverlap":false,"labelBound":false,"labelFont":"DejaVu Sans","labelFontSize":39,"labelFontWeight":200,"labelColor":"#555","titleFont":"DejaVu Sans","titleFontSize":43,"titleFontWeight":200,"titleColor":"#555","tickColor":"#444","tickWidth":1},
"title":{"font":"DejaVu Sans","fontSize":46,"fontWeight":200,"color":"#555","offset":19.6,"dx":6,"baseline":"alphabetic","anchor":"middle","frame":"group"},
"view":{"stroke":"#444","strokeWidth":1}
}
}
